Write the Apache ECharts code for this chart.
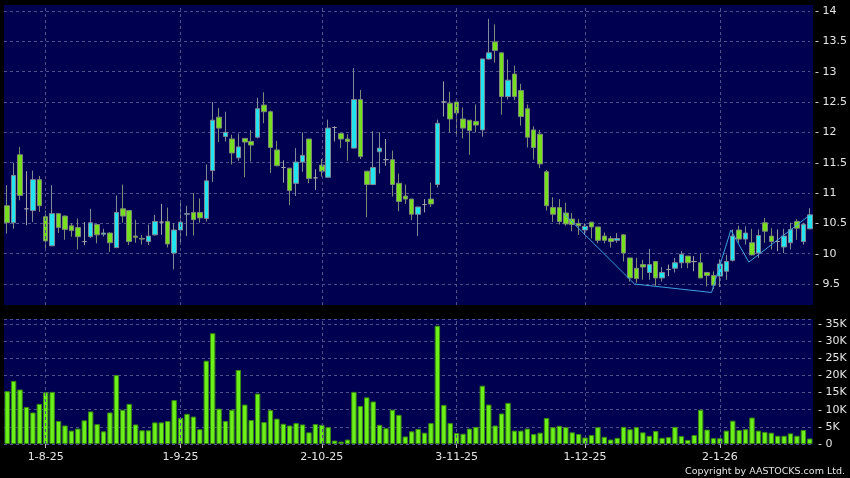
<!DOCTYPE html>
<html><head><meta charset="utf-8">
<script src="https://cdn.jsdelivr.net/npm/echarts@6/dist/echarts.min.js"></script>
<style>html,body{margin:0;padding:0;background:#000;}#c{width:850px;height:478px;}</style>
</head><body><div id="c"></div>
<script>
const dates = ['24-7-25','25-7-25','28-7-25','29-7-25','30-7-25','31-7-25',
'1-8-25','4-8-25','5-8-25','6-8-25','7-8-25','8-8-25','11-8-25','12-8-25','13-8-25','14-8-25','15-8-25','18-8-25','19-8-25','20-8-25','21-8-25','22-8-25','25-8-25','26-8-25','27-8-25','28-8-25','29-8-25',
'1-9-25','2-9-25','3-9-25','4-9-25','5-9-25','8-9-25','9-9-25','10-9-25','11-9-25','12-9-25','15-9-25','16-9-25','17-9-25','18-9-25','19-9-25','22-9-25','23-9-25','24-9-25','25-9-25','26-9-25','29-9-25','30-9-25',
'2-10-25','3-10-25','6-10-25','8-10-25','9-10-25','10-10-25','13-10-25','14-10-25','15-10-25','16-10-25','17-10-25','20-10-25','21-10-25','22-10-25','23-10-25','24-10-25','27-10-25','28-10-25','29-10-25','30-10-25','31-10-25',
'3-11-25','4-11-25','5-11-25','6-11-25','7-11-25','10-11-25','11-11-25','12-11-25','13-11-25','14-11-25','17-11-25','18-11-25','19-11-25','20-11-25','21-11-25','24-11-25','25-11-25','26-11-25','27-11-25','28-11-25',
'1-12-25','2-12-25','3-12-25','4-12-25','5-12-25','8-12-25','9-12-25','10-12-25','11-12-25','12-12-25','15-12-25','16-12-25','17-12-25','18-12-25','19-12-25','22-12-25','23-12-25','24-12-25','29-12-25','30-12-25','31-12-25',
'2-1-26','5-1-26','6-1-26','7-1-26','8-1-26','9-1-26','12-1-26','13-1-26','14-1-26','15-1-26','16-1-26','19-1-26','20-1-26','21-1-26','22-1-26'];

const openP = [10.79,10.51,11.63,10.74,10.71,11.22,10.61,10.13,10.66,10.62,
10.46,10.43,10.20,10.28,10.48,10.32,10.34,10.10,10.74,10.71,
10.29,10.25,10.20,10.31,10.52,10.53,10.01,10.39,10.65,10.68,
10.68,10.58,11.37,12.25,11.93,11.89,11.58,11.90,11.85,11.92,
12.45,12.34,11.71,11.42,11.41,11.16,11.51,11.89,11.25,11.46,
11.26,12.08,11.98,11.89,11.74,12.54,11.36,11.14,11.68,11.55,
11.55,11.16,10.95,10.90,10.65,10.81,10.90,11.14,12.50,12.48,
12.50,12.22,12.20,12.18,12.04,13.21,13.49,13.31,12.59,12.96,
12.69,12.39,12.04,11.97,11.35,10.76,10.76,10.67,10.57,10.50,
10.39,10.52,10.44,10.29,10.25,10.22,10.31,9.93,9.76,9.82,
9.69,9.87,9.60,9.74,9.76,9.85,9.96,9.87,9.85,9.69,
9.64,9.63,9.71,9.89,10.39,10.24,10.18,10.01,10.51,10.29,
10.20,10.11,10.18,10.53,10.20,10.41];
const closeP = [10.51,11.29,10.96,10.74,11.22,10.79,10.21,10.66,10.43,10.40,
10.38,10.28,10.20,10.51,10.31,10.34,10.18,10.68,10.62,10.20,
10.27,10.24,10.29,10.53,10.52,10.16,10.39,10.52,10.66,10.56,
10.59,11.20,12.20,12.07,12.00,11.66,11.76,11.84,11.79,12.39,
12.34,11.75,11.45,11.42,11.04,11.51,11.62,11.24,11.25,11.36,
12.07,12.08,11.89,11.85,12.54,11.60,11.14,11.42,11.74,11.55,
11.14,10.86,10.90,10.65,10.77,10.81,10.82,12.15,12.50,12.22,
12.32,12.07,12.03,12.12,13.21,13.31,13.35,12.59,12.86,12.59,
12.26,11.92,11.75,11.48,10.79,10.65,10.53,10.49,10.48,10.46,
10.45,10.44,10.22,10.22,10.20,10.25,10.01,9.60,9.59,9.78,
9.82,9.60,9.69,9.74,9.85,9.99,9.85,9.87,9.60,9.64,
9.48,9.83,9.87,10.29,10.24,10.34,9.98,10.30,10.37,10.20,
10.20,10.29,10.40,10.42,10.48,10.64];
const lowP = [10.33,10.41,10.88,10.47,10.52,10.69,10.04,10.12,10.34,10.23,
10.28,10.07,10.14,10.26,10.17,10.28,10.03,10.09,10.51,10.14,
10.18,10.15,10.14,10.30,10.31,10.10,9.74,10.18,10.29,10.30,
10.51,10.53,11.18,11.84,11.85,11.47,11.53,11.26,11.52,11.90,
12.15,11.33,11.44,11.17,10.80,10.95,11.35,11.16,11.05,11.27,
11.25,11.85,11.74,11.53,11.73,11.56,10.60,11.13,11.32,11.45,
10.94,10.70,10.82,10.55,10.29,10.68,10.77,11.09,12.26,12.00,
11.93,11.90,11.63,12.00,11.93,13.20,13.15,12.29,12.54,12.53,
12.11,11.75,11.55,11.41,10.71,10.52,10.48,10.46,10.37,10.31,
10.31,10.25,10.17,10.17,10.10,10.18,9.87,9.54,9.52,9.57,
9.57,9.47,9.54,9.63,9.69,9.76,9.76,9.71,9.60,9.46,
9.42,9.45,9.57,9.87,10.18,10.15,9.97,9.93,10.18,10.07,
10.04,10.01,10.07,10.23,10.15,10.40];
const highP = [11.13,11.50,11.76,11.36,11.37,11.28,10.71,11.13,10.66,10.63,
10.50,10.58,10.52,10.74,10.48,10.41,10.35,10.96,11.14,10.71,
10.56,10.31,10.48,10.64,10.82,10.76,10.50,10.86,10.79,11.00,
10.91,11.47,12.50,12.40,12.34,11.96,11.98,11.90,12.04,12.57,
12.66,12.36,11.86,11.54,11.41,11.74,12.00,11.89,11.39,11.56,
12.21,12.10,11.99,11.97,13.06,12.70,11.36,12.02,12.00,11.89,
11.70,11.32,11.14,10.90,10.77,10.90,11.17,12.21,12.84,12.67,
12.50,12.41,12.20,12.46,13.21,13.87,13.78,13.31,13.20,13.10,
12.80,12.46,12.10,12.04,11.38,10.93,10.90,10.84,10.67,10.57,
10.50,10.52,10.44,10.35,10.29,10.34,10.32,9.93,9.93,9.90,
10.08,9.88,9.78,9.82,9.93,10.04,9.96,9.96,10.01,9.70,
9.71,9.91,9.98,10.40,10.46,10.45,10.41,10.40,10.59,10.42,
10.40,10.41,10.51,10.57,10.51,10.75];
const volumeK = [15.4,18.4,15.9,10.8,9.2,11.7,15.1,15.2,6.7,5.4,
3.9,4.5,6.9,9.5,5.8,3.7,9.2,20.1,10.0,11.7,
5.7,4.0,4.0,6.3,6.3,6.7,12.8,7.6,8.8,8.0,
4.3,24.3,32.3,10.3,6.7,10.0,21.6,11.5,7.0,14.7,
6.4,9.9,7.4,5.9,5.4,6.1,5.7,3.4,5.8,5.6,
4.9,1.0,0.7,1.3,15.2,11.1,13.6,12.4,5.6,4.6,
10.0,8.5,2.2,3.7,4.4,3.3,6.1,34.5,11.4,6.1,
3.2,3.0,4.5,5.0,17.0,11.5,5.4,8.9,12.0,3.9,
3.9,4.5,2.9,3.3,7.6,4.9,5.3,4.9,3.4,2.9,
1.9,2.6,4.9,2.1,1.3,1.8,5.0,4.3,4.9,3.4,
2.4,3.8,1.8,2.0,5.0,2.3,1.2,2.6,10.0,4.2,
1.7,1.7,3.9,6.8,4.1,4.3,7.7,3.9,3.5,3.3,
2.4,2.4,3.1,2.4,4.1,1.6];
const tickLabels = ['1-8-25','1-9-25','2-10-25','3-11-25','1-12-25','2-1-26'];
// trend line vertices: position in trading-day index, price
const trendX = [86.6, 97.7, 109.7, 112.7, 115.5, 124.8];
const trendY = [10.67, 9.50, 9.36, 10.39, 9.86, 10.62];

const FONT = 'DejaVu Sans';
const TXT = '#e4e4e4';
const GRIDC = '#50508c';
const isTick = (i, v) => tickLabels.indexOf(v !== undefined ? v : dates[i]) >= 0;
const vLines = tickLabels.map(t => ({ xAxis: t }));
const vLineCfg = {
  silent: true, symbol: ['none', 'none'], label: { show: false },
  lineStyle: { color: GRIDC, type: [3, 3], width: 1 }, data: vLines, animation: false
};

const chart = echarts.init(document.getElementById('c'), null, { renderer: 'canvas' });
chart.setOption({
  animation: false,
  backgroundColor: '#000000',
  title: {
    text: 'Copyright by AASTOCKS.com Ltd.', right: 5, bottom: 1, padding: 0,
    textStyle: { color: TXT, fontFamily: FONT, fontSize: 9.5, fontWeight: 'normal' }
  },
  grid: [
    { left: 4, top: 5, width: 809, height: 300, show: true, backgroundColor: '#000050', borderWidth: 0 },
    { left: 4, top: 11, width: 809, height: 273, show: false },
    { left: 4, top: 319, width: 809, height: 125, show: true, backgroundColor: '#000050', borderWidth: 0 }
  ],
  xAxis: [
    { gridIndex: 0, type: 'category', data: dates, show: false },
    { gridIndex: 1, type: 'category', data: dates, show: false },
    { gridIndex: 2, type: 'category', data: dates,
      axisLine: { show: false },
      axisTick: { show: true, alignWithLabel: true, interval: isTick, length: 4, lineStyle: { color: '#bbbbbb' } },
      axisLabel: { interval: isTick, color: TXT, fontFamily: FONT, fontSize: 11, margin: 8 },
      splitLine: { show: false } },
    { gridIndex: 0, type: 'value', min: -0.5, max: dates.length - 0.5, show: false }
  ],
  yAxis: [
    { gridIndex: 0, type: 'value', min: 9.154, max: 14.099, show: false },
    { gridIndex: 1, type: 'value', position: 'right', min: 9.5, max: 14, interval: 0.5,
      axisLine: { show: false }, axisTick: { show: false },
      axisLabel: { formatter: v => '- ' + v, color: TXT, fontFamily: FONT, fontSize: 11, margin: 5 },
      splitLine: { show: true, lineStyle: { color: GRIDC, type: [3, 3], width: 1 } } },
    { gridIndex: 2, type: 'value', position: 'right', min: 0, max: 36.458, interval: 5,
      axisLine: { show: false }, axisTick: { show: false },
      axisLabel: { formatter: v => '- ' + (v === 0 ? '0' : v + 'K'), showMaxLabel: false, color: TXT, fontFamily: FONT, fontSize: 11, margin: 5 },
      splitLine: { show: true, lineStyle: { color: GRIDC, type: [3, 3], width: 1 } } }
  ],
  series: [
    { type: 'candlestick', xAxisIndex: 0, yAxisIndex: 0, barWidth: 5,
      data: dates.map((d, i) => [openP[i], closeP[i], lowP[i], highP[i]]),
      itemStyle: { color: '#22e4ee', color0: '#76e01e', borderColor: '#7e8a96', borderColor0: '#7e8a76', borderColorDoji: '#a0a0a8', borderWidth: 1 },
      markLine: vLineCfg },
    { type: 'line', xAxisIndex: 3, yAxisIndex: 0, symbol: 'none', z: 5,
      data: trendX.map((x, i) => [x, trendY[i]]),
      lineStyle: { color: '#3f9fe0', width: 1 } },
    { type: 'bar', xAxisIndex: 2, yAxisIndex: 2, barWidth: 5.4,
      data: volumeK,
      itemStyle: { color: '#6cf01a', borderColor: '#3a8a12', borderWidth: 1 },
      markLine: vLineCfg }
  ]
});
</script></body></html>
